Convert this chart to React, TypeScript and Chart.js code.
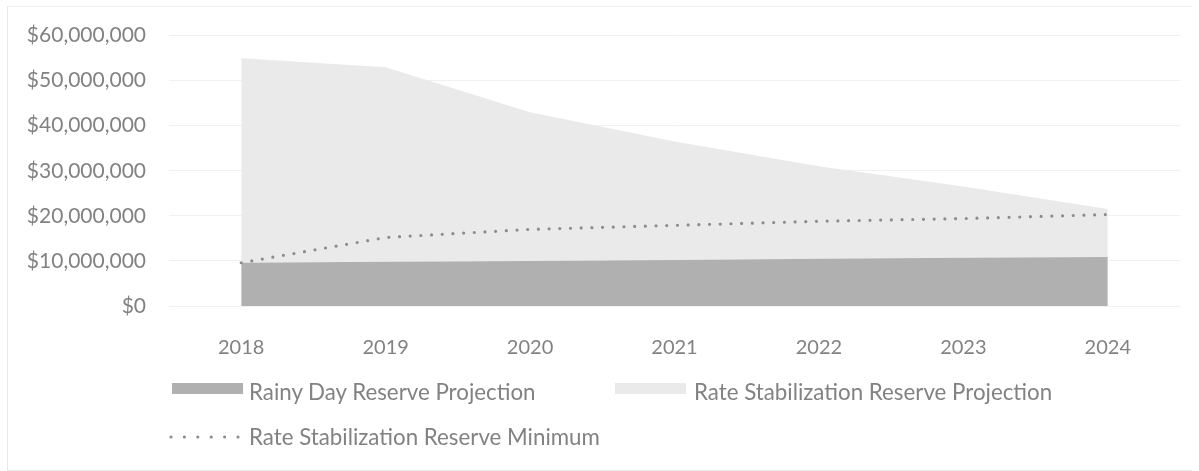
import React, { useEffect, useRef } from "react";
import { Chart, registerables } from "chart.js";

Chart.register(...registerables);

const years = ["2018", "2019", "2020", "2021", "2022", "2023", "2024"];
const rainyDay = [9600000, 9800000, 10000000, 10200000, 10500000, 10700000, 10900000];
const rateStabTotal = [55000000, 53000000, 43000000, 36500000, 31000000, 26500000, 21500000];
const rateStabMinimum = [9600000, 15200000, 17000000, 17900000, 18800000, 19400000, 20300000];
const yTicks = [0, 10000000, 20000000, 30000000, 40000000, 50000000, 60000000];

const rateStabProjection = rateStabTotal.map((t, i) => t - rainyDay[i]);

const FONT = "Lato, 'Open Sans', sans-serif";
const TEXT = "#828282";
const RAINY = "#b0b0b0";
const RATE = "#eaeaea";
const DOTS = "#8c8c8c";

const fmt = (v: number) => "$" + Math.round(v).toLocaleString("en-US");

export default function App() {
  const ref = useRef<HTMLCanvasElement | null>(null);
  useEffect(() => {
    if (!ref.current) return;
    const chart = new Chart(ref.current, {
      type: "line",
      data: {
        labels: years,
        datasets: [
          {
            label: "Rainy Day Reserve Projection",
            data: rainyDay,
            backgroundColor: RAINY,
            borderWidth: 0,
            pointRadius: 0,
            fill: "origin",
            stack: "reserves",
            order: 2,
          },
          {
            label: "Rate Stabilization Reserve Projection",
            data: rateStabProjection,
            backgroundColor: RATE,
            borderWidth: 0,
            pointRadius: 0,
            fill: "-1",
            stack: "reserves",
            order: 3,
          },
          {
            label: "Rate Stabilization Reserve Minimum",
            data: rateStabMinimum,
            borderColor: DOTS,
            borderWidth: 3.2,
            borderDash: [0, 10.7],
            borderCapStyle: "round",
            pointRadius: 0,
            fill: false,
            stack: "minimum",
            order: 1,
          },
        ],
      },
      options: {
        animation: false,
        responsive: false,
        maintainAspectRatio: false,
        layout: { padding: { left: 0, right: 19, top: 31, bottom: 0 } },
        plugins: { legend: { display: false }, tooltip: { enabled: false }, title: { display: false } },
        scales: {
          x: {
            offset: true,
            grid: { display: false, drawTicks: false },
            border: { display: false },
            ticks: { color: TEXT, font: { family: FONT, size: 20 }, padding: 30, maxRotation: 0 },
            afterFit: (s: any) => { s.height = 165; },
          },
          y: {
            stacked: true,
            min: 0,
            max: 60000000,
            afterBuildTicks: (s: any) => { s.ticks = yTicks.map((v) => ({ value: v })); },
            grid: { color: "#f1f1f1", drawTicks: false, lineWidth: 1 },
            border: { display: false },
            ticks: { color: TEXT, font: { family: FONT, size: 21 }, padding: 23, callback: (v: any) => fmt(Number(v)) },
            afterFit: (s: any) => { s.width = 169; },
          },
        },
      },
    });
    return () => chart.destroy();
  }, []);

  const legendText: React.CSSProperties = {
    position: "absolute",
    fontFamily: FONT,
    fontSize: 22.3,
    color: TEXT,
    lineHeight: "26px",
    whiteSpace: "nowrap",
  };

  return (
    <div style={{ position: "fixed", left: 0, top: 0, width: 1199, height: 471, background: "#fff", overflow: "hidden" }}>
      <div style={{ position: "absolute", left: 7, top: 6, width: 1184, height: 463, borderLeft: "1px solid #e8e8e8", borderTop: "1px solid #f0f0f0", borderBottom: "1px solid #e8e8e8" }} />
      <canvas ref={ref} width={1199} height={471} style={{ position: "absolute", left: 0, top: 0 }} />
      <div style={{ position: "absolute", left: 172, top: 383, width: 71, height: 11, background: RAINY }} />
      <div style={{ ...legendText, left: 249, top: 379 }}>Rainy Day Reserve Projection</div>
      <div style={{ position: "absolute", left: 615, top: 383, width: 71, height: 11, background: RATE }} />
      <div style={{ ...legendText, left: 694, top: 379 }}>Rate Stabilization Reserve Projection</div>
      <svg style={{ position: "absolute", left: 166, top: 430 }} width={76} height={14}>
        <line x1={5} y1={7} x2={72} y2={7} stroke={DOTS} strokeWidth={3.2} strokeLinecap="round" strokeDasharray="0 13.4" />
      </svg>
      <div style={{ ...legendText, left: 249, top: 424 }}>Rate Stabilization Reserve Minimum</div>
    </div>
  );
}
